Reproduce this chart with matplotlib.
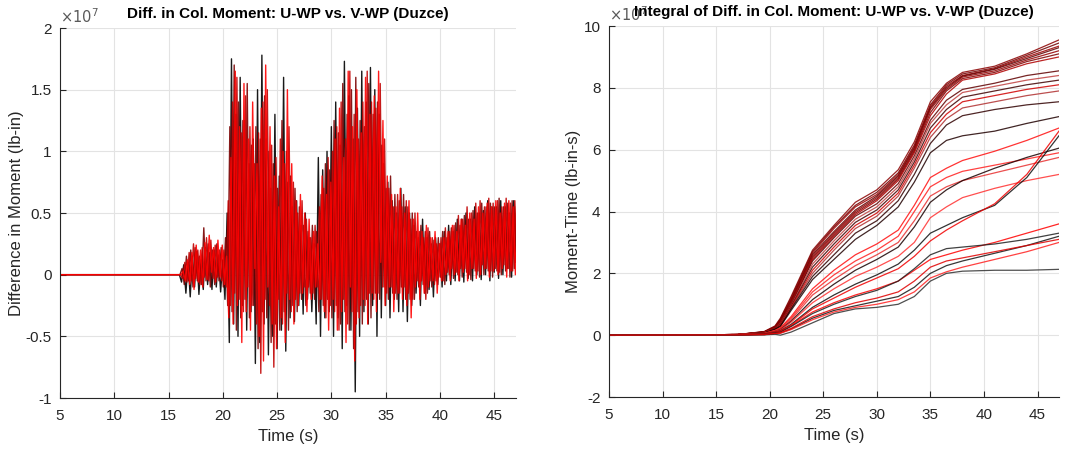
import numpy as np
import matplotlib
matplotlib.use("Agg")
import matplotlib.pyplot as plt
from matplotlib.ticker import FuncFormatter, MultipleLocator

plt.rcParams["font.family"] = ["Liberation Sans", "DejaVu Sans"]
plt.rcParams["axes.unicode_minus"] = False

# ---------------------------------------------------------------------------
# Difference in column moment, sampled every 0.2 s (values in 1e6 lb-in)
# ---------------------------------------------------------------------------
DT = 0.2
T_START = 16.0
series_offsets = [0.0, 0.05, 0.10, 0.15]
series_colors = ["#000000", "#7a0000", "#c00000", "#ff0000"]

moment_diff_black = [
    0, -0.6, 0.8, -1.5, 1.0,
    -1.8, 1.5, -1.0, 1.9, -1.6,
    1.2, -1.2, 2.2, -0.8, 1.8,
    -1.2, 2.0, -1.0, 1.6, -1.4,
    1.2, -2.0, 5.0, -5.5, 17.5,
    -4.0, 13.0, -5.0, 16.0, -2.5,
    12.5, -4.5, 9.0, -3.0, 11.0,
    -7.2, 15.0, -5.5, 17.8, -4.0,
    11.0, -6.5, 7.0, -5.0, 13.0,
    -6.0, 8.0, -4.5, 16.0, -6.2,
    7.5, -3.5, 5.5, -3.8, 6.0,
    -2.5, 4.0, -3.2, 5.0, -2.0,
    3.0, -3.0, 2.5, -4.0, 9.5,
    -5.0, 8.5, -3.5, 10.0, -3.0,
    12.0, -5.0, 14.0, -3.5, 10.5,
    -6.0, 17.3, -2.5, 14.5, -4.5,
    11.0, -9.5, 13.5, -5.0, 16.5,
    -3.0, 14.0, -4.0, 16.8, -2.5,
    15.0, -5.0, 13.0, -3.5, 9.0,
    -2.5, 7.5, -3.5, 6.0, -2.0,
    5.0, -3.0, 7.0, -3.0, 5.5,
    -3.8, 5.0, -2.5, 4.0, -1.5,
    3.0, -2.5, 4.5, -1.5, 3.0,
    -1.2, 2.5, -1.8, 3.0, -0.8,
    2.5, -1.0, 3.5, -0.5, 4.0,
    -0.8, 3.5, -0.5, 4.5, -0.5,
    4.5, -0.6, 5.0, -0.3, 4.5,
    -0.5, 5.5, 0.0, 5.0, -0.4,
    5.2, 0.0, 6.0, -0.5, 5.5,
    0.2, 5.5, -0.3, 6.0, 0.0,
    5.5, 0.5, 5.0, -0.2, 6.0,
    1.0,
]

moment_diff_darkred = [
    0, 0.5, -0.8, 1.5, -0.5,
    2.0, -1.0, 2.2, -0.5, 1.5,
    -0.8, 3.8, -0.5, 2.5, -1.0,
    2.0, -0.8, 2.5, -0.5, 2.2,
    -1.0, 3.0, -2.5, 12.0, -3.0,
    17.0, -4.5, 14.0, -3.5, 12.5,
    -2.0, 15.5, -3.5, 10.5, -2.5,
    12.0, -6.0, 11.0, -3.0, 14.5,
    -3.5, 10.0, -5.5, 9.0, -4.0,
    7.0, -4.5, 12.5, -3.0, 10.0,
    -4.5, 8.0, -2.5, 7.0, -3.0,
    5.5, -2.0, 4.0, -2.5, 3.5,
    -1.5, 4.0, -2.0, 3.5, -3.0,
    6.5, -2.5, 9.0, -2.0, 8.5,
    -3.5, 12.5, -2.5, 11.5, -4.0,
    15.5, -3.0, 13.0, -4.5, 15.0,
    -6.0, 16.0, -3.0, 12.5, -4.0,
    12.0, -2.0, 15.5, -3.5, 13.0,
    -1.5, 14.0, -2.0, 10.5, -1.0,
    7.0, -2.0, 8.0, -1.5, 6.5,
    -2.0, 6.0, -1.0, 6.5, -2.0,
    5.5, -2.0, 5.0, -2.0, 3.5,
    -1.0, 4.0, -0.8, 3.5, -1.5,
    3.5, -1.0, 2.8, -0.5, 3.0,
    -0.2, 3.5, -0.8, 3.0, 0.0,
    3.8, -0.3, 4.2, 0.0, 4.0,
    -0.2, 4.8, 0.2, 4.5, -0.4,
    5.2, 0.3, 5.0, -0.2, 5.8,
    0.0, 5.5, 0.3, 5.8, -0.2,
    5.5, 0.3, 6.2, 0.0, 5.5,
    0.3, 5.8, -0.2, 6.0, 0.5,
    5.5,
]

moment_diff_midred = [
    0, -0.3, 1.0, -0.6, 1.8,
    -0.5, 2.5, -0.3, 2.0, -0.8,
    2.2, -0.2, 3.0, -0.5, 2.8,
    -0.3, 2.4, -0.2, 2.0, -0.5,
    2.0, -1.0, 6.0, -2.5, 14.0,
    -1.5, 16.0, -2.0, 11.5, -3.0,
    14.5, -1.0, 12.0, -2.5, 9.0,
    -4.0, 11.5, -8.0, 14.0, -2.0,
    15.0, -2.5, 10.5, -7.5, 9.5,
    -2.0, 11.0, -4.0, 9.0, -1.5,
    12.0, -3.0, 7.5, -2.0, 5.0,
    -1.5, 6.0, -1.0, 4.5, -1.0,
    3.0, -1.5, 4.0, -1.0, 5.5,
    -2.0, 7.0, -3.5, 9.5, -2.5,
    10.0, -3.0, 12.0, -4.5, 14.0,
    -2.0, 11.0, -4.0, 16.5, -3.0,
    13.0, -4.0, 11.0, -2.5, 14.0,
    -2.5, 16.5, -1.5, 14.0, -2.0,
    13.5, -1.5, 15.5, -1.0, 11.0,
    -1.5, 7.0, -1.0, 5.5, -1.5,
    6.5, -1.5, 5.5, -1.0, 6.0,
    -1.5, 4.5, -2.0, 5.0, -0.5,
    3.5, -0.5, 3.0, -2.0, 3.8,
    -0.5, 3.0, -0.8, 2.5, -0.2,
    3.0, -0.5, 3.8, 0.2, 3.5,
    0.5, 4.0, 0.2, 4.8, 0.5,
    4.5, 0.5, 5.5, 0.0, 5.0,
    0.5, 5.8, 0.3, 6.0, 0.8,
    5.5, 0.5, 6.2, 0.3, 5.8,
    0.5, 6.0, 0.2, 5.5, 0.8,
    6.2, 0.5, 5.8, 0.3, 6.0,
    0.5,
]

moment_diff_red = [
    0, 0.3, -0.5, 1.2, -0.8,
    1.8, -1.2, 2.4, -0.6, 2.0,
    -1.0, 2.6, -0.4, 3.2, 0.2,
    2.2, -0.6, 2.8, -0.2, 2.4,
    -0.8, 1.5, -3.5, 9.5, -4.0,
    16.5, -2.5, 12.0, -5.5, 15.5,
    -3.0, 11.0, -4.5, 14.0, 0.5,
    9.0, -5.0, 13.5, -7.0, 17.0,
    -1.0, 12.0, -4.0, 8.0, -6.0,
    5.5, -3.5, 10.0, -5.5, 15.0,
    -2.0, 9.0, -4.0, 6.0, -2.5,
    6.5, -1.5, 5.0, -3.0, 4.5,
    -2.0, 3.5, -1.0, 2.5, -2.0,
    8.0, -3.0, 6.5, -4.5, 7.5,
    -2.0, 11.0, -4.5, 13.5, -3.0,
    9.5, -5.5, 16.5, -1.0, 12.0,
    -7.0, 15.0, -3.5, 11.5, -2.0,
    16.0, -4.0, 13.0, -1.5, 14.5,
    -3.0, 16.5, 1.0, 12.5, -2.5,
    8.0, -1.0, 6.5, -3.0, 5.5,
    -1.5, 7.0, -2.0, 5.0, -2.5,
    6.0, -3.5, 4.5, -1.0, 5.0,
    -2.0, 3.5, -1.5, 4.0, -1.0,
    3.0, -0.5, 3.5, -1.5, 2.5,
    -0.5, 3.0, 0.0, 3.5, -0.5,
    4.0, 0.0, 3.5, -0.5, 4.5,
    0.2, 4.0, -0.5, 5.0, 0.5,
    4.5, -0.3, 5.5, 0.0, 5.0,
    0.5, 5.8, -0.2, 5.5, 0.3,
    6.0, 0.0, 5.0, 0.5, 5.8,
    -0.2, 6.0, 0.3, 5.5, 0.0,
    5.0,
]

moment_series = [moment_diff_black, moment_diff_darkred,
                 moment_diff_midred, moment_diff_red]

# ---------------------------------------------------------------------------
# Integral of the moment difference (values in 1e7 lb-in-s) at knot times
# ---------------------------------------------------------------------------
knot_times = [5, 17, 19.5, 20.5, 21, 22, 24, 26, 28, 30, 32, 33.5, 35, 36.5, 38, 41, 44, 47]

integral_curves = [
    [0, 0.02, 0.12, 0.30, 0.55, 1.25, 2.75, 3.55, 4.30, 4.70, 5.35, 6.25, 7.55, 8.15, 8.50, 8.70, 9.10, 9.55],
    [0, 0.02, 0.11, 0.28, 0.52, 1.20, 2.70, 3.50, 4.20, 4.62, 5.25, 6.15, 7.45, 8.10, 8.45, 8.65, 9.05, 9.45],
    [0, 0.02, 0.11, 0.27, 0.50, 1.15, 2.65, 3.45, 4.15, 4.55, 5.20, 6.10, 7.40, 8.05, 8.40, 8.62, 9.00, 9.35],
    [0, 0.02, 0.10, 0.26, 0.48, 1.12, 2.60, 3.35, 4.05, 4.50, 5.15, 6.05, 7.35, 8.00, 8.38, 8.60, 8.95, 9.30],
    [0, 0.02, 0.10, 0.25, 0.46, 1.10, 2.55, 3.30, 4.00, 4.45, 5.10, 6.00, 7.30, 7.95, 8.35, 8.55, 8.90, 9.20],
    [0, 0.02, 0.10, 0.24, 0.44, 1.05, 2.50, 3.25, 3.95, 4.40, 5.05, 5.95, 7.20, 7.90, 8.30, 8.50, 8.85, 9.10],
    [0, 0.02, 0.09, 0.24, 0.42, 1.00, 2.45, 3.20, 3.90, 4.35, 5.00, 5.90, 7.10, 7.80, 8.25, 8.45, 8.78, 9.00],
    [0, 0.02, 0.09, 0.23, 0.40, 0.98, 2.40, 3.15, 3.85, 4.25, 4.90, 5.80, 6.95, 7.60, 7.95, 8.15, 8.40, 8.55],
    [0, 0.02, 0.09, 0.22, 0.38, 0.95, 2.30, 3.05, 3.75, 4.15, 4.80, 5.70, 6.85, 7.45, 7.85, 8.05, 8.25, 8.40],
    [0, 0.02, 0.08, 0.22, 0.36, 0.92, 2.20, 2.95, 3.65, 4.05, 4.70, 5.60, 6.70, 7.30, 7.70, 7.90, 8.10, 8.25],
    [0, 0.02, 0.08, 0.21, 0.34, 0.90, 2.10, 2.85, 3.55, 3.95, 4.60, 5.50, 6.55, 7.15, 7.55, 7.75, 7.95, 8.10],
    [0, 0.02, 0.08, 0.20, 0.32, 0.88, 2.00, 2.75, 3.45, 3.85, 4.50, 5.40, 6.40, 7.00, 7.35, 7.55, 7.75, 7.90],
    [0, 0.02, 0.07, 0.20, 0.30, 0.85, 1.90, 2.60, 3.30, 3.70, 4.35, 5.20, 6.20, 6.80, 7.10, 7.30, 7.45, 7.55],
    [0, 0.02, 0.07, 0.18, 0.28, 0.80, 1.80, 2.45, 3.10, 3.55, 4.15, 4.95, 5.90, 6.30, 6.45, 6.60, 6.85, 7.07],
    [0, 0.02, 0.06, 0.15, 0.24, 0.60, 1.50, 2.10, 2.60, 2.95, 3.40, 4.20, 5.10, 5.40, 5.65, 5.95, 6.30, 6.70],
    [0, 0.02, 0.06, 0.15, 0.22, 0.55, 1.40, 1.95, 2.40, 2.75, 3.20, 4.00, 4.80, 5.10, 5.30, 5.50, 5.70, 5.90],
    [0, 0.02, 0.05, 0.14, 0.20, 0.50, 1.30, 1.80, 2.25, 2.60, 3.00, 3.70, 4.50, 4.80, 5.00, 5.25, 5.50, 5.75],
    [0, 0.02, 0.05, 0.12, 0.18, 0.45, 1.15, 1.65, 2.10, 2.45, 2.85, 3.50, 4.30, 4.70, 5.00, 5.40, 5.75, 6.05],
    [0, 0.02, 0.05, 0.12, 0.17, 0.42, 1.05, 1.50, 1.90, 2.20, 2.55, 3.00, 3.80, 4.15, 4.45, 4.75, 5.00, 5.20],
    [0, 0.01, 0.04, 0.10, 0.14, 0.35, 0.90, 1.30, 1.65, 1.95, 2.30, 2.75, 3.30, 3.55, 3.80, 4.20, 5.10, 6.45],
    [0, 0.01, 0.04, 0.10, 0.13, 0.32, 0.85, 1.20, 1.55, 1.85, 2.15, 2.55, 3.05, 3.40, 3.70, 4.25, 5.20, 6.60],
    [0, 0.01, 0.03, 0.08, 0.11, 0.30, 0.75, 1.05, 1.30, 1.50, 1.75, 2.10, 2.45, 2.60, 2.75, 3.00, 3.30, 3.60],
    [0, 0.01, 0.03, 0.08, 0.10, 0.28, 0.70, 1.00, 1.25, 1.45, 1.75, 2.15, 2.60, 2.80, 2.85, 2.95, 3.10, 3.30],
    [0, 0.01, 0.02, 0.05, 0.07, 0.20, 0.55, 0.80, 0.95, 1.10, 1.25, 1.55, 2.00, 2.25, 2.40, 2.65, 2.90, 3.20],
    [0, 0.01, 0.02, 0.05, 0.06, 0.18, 0.50, 0.75, 0.90, 1.00, 1.15, 1.40, 1.85, 2.05, 2.20, 2.45, 2.70, 3.00],
    [0, 0.00, 0.01, 0.03, 0.00, 0.10, 0.40, 0.70, 0.85, 0.90, 1.00, 1.25, 1.75, 2.00, 2.07, 2.10, 2.10, 2.13],
    [0, 0.01, 0.02, 0.06, 0.08, 0.22, 0.60, 0.85, 1.05, 1.20, 1.40, 1.75, 2.20, 2.40, 2.50, 2.70, 2.90, 3.10],
]

integral_colors = [
    "#8b0000", "#700000", "#a00000", "#5c0000", "#950000", "#7d0000",
    "#b00000", "#600000", "#c04040", "#400000", "#d00000", "#b03030",
    "#300000", "#200000", "#ff1010", "#ff2020", "#e83030", "#1a0000",
    "#ff3030", "#101010", "#f00000", "#ff0000", "#202020", "#151515",
    "#ff2020", "#303030", "#e00000",
]

TEXT = "#262626"
GRID = "#e3e3e3"


def style_axes(ax, xlim, ylim, ystep, exponent):
    ax.set_xlim(*xlim)
    ax.set_ylim(*ylim)
    ax.xaxis.set_major_locator(MultipleLocator(5))
    ax.yaxis.set_major_locator(MultipleLocator(ystep))
    scale = 10.0 ** exponent
    ax.yaxis.set_major_formatter(FuncFormatter(lambda v, p: f"{v / scale:g}"))
    ax.grid(True, color=GRID, linewidth=0.8)
    ax.set_axisbelow(True)
    for side in ("top", "right"):
        ax.spines[side].set_visible(False)
    for side in ("left", "bottom"):
        ax.spines[side].set_color(TEXT)
        ax.spines[side].set_linewidth(0.8)
    ax.tick_params(direction="in", length=4, width=0.8, colors=TEXT,
                   labelsize=11, labelcolor=TEXT)
    ax.tick_params(axis="x", pad=8)
    ax.tick_params(axis="y", pad=6)
    ax.text(0.0, 1.005, r"$\times10^{%d}$" % exponent, transform=ax.transAxes,
            ha="left", va="bottom", fontsize=10.5, color="#5a5a5a")


fig = plt.figure(figsize=(10.88, 4.51), dpi=100)
ax1 = fig.add_axes([0.0551, 0.1175, 0.4191, 0.8204])
ax2 = fig.add_axes([0.5597, 0.1197, 0.4136, 0.8226])

# Left: time history of the moment difference
for values, offset, color in zip(moment_series, series_offsets, series_colors):
    vals = np.asarray(values) * 1e6
    t = T_START + offset + DT * np.arange(len(vals))
    t = np.concatenate([[5.0], t])
    vals = np.concatenate([[0.0], vals])
    ax1.plot(t, vals, color=color, linewidth=1.0, alpha=0.9)

style_axes(ax1, (5, 47), (-1e7, 2e7), 0.5e7, 7)
ax1.set_title("Diff. in Col. Moment: U-WP vs. V-WP (Duzce)", fontsize=11,
              fontweight="bold", color="black", pad=7)
ax1.set_xlabel("Time (s)", fontsize=12, color=TEXT, labelpad=4)
ax1.set_ylabel("Difference in Moment (lb-in)", fontsize=12, color=TEXT, labelpad=1)

# Right: running integral of the moment difference
for values, color in zip(integral_curves, integral_colors):
    ax2.plot(knot_times, np.asarray(values) * 1e7, color=color,
             linewidth=0.9, alpha=0.85)

style_axes(ax2, (5, 47), (-2e7, 10e7), 2e7, 7)
ax2.set_title("Integral of Diff. in Col. Moment: U-WP vs. V-WP (Duzce)",
              fontsize=11, fontweight="bold", color="black", pad=7)
ax2.set_xlabel("Time (s)", fontsize=12, color=TEXT, labelpad=4)
ax2.set_ylabel("Moment-Time (lb-in-s)", fontsize=12, color=TEXT, labelpad=2)

fig.savefig("out.png", dpi=100, facecolor="white")
